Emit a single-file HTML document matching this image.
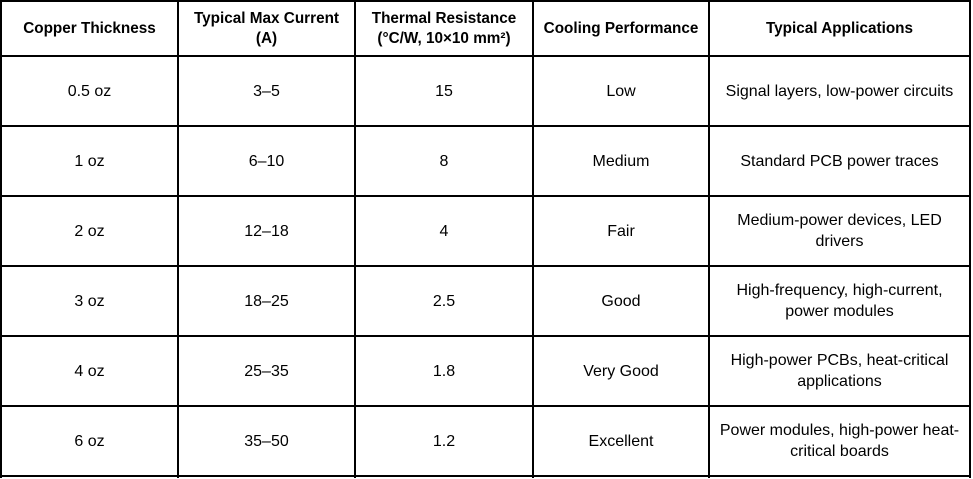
<!DOCTYPE html>
<html><head><meta charset="utf-8"><style>
body{margin:0;background:#fff;width:973px;height:479px;overflow:hidden;position:relative;font-family:"Liberation Sans","DejaVu Sans",sans-serif;color:#000}
.h{position:absolute;left:0;width:971px;height:2px;background:#000}
.v{position:absolute;top:0;width:2px;height:478px;background:#000}
.c{position:absolute;display:flex;align-items:center;justify-content:center;text-align:center;font-size:16px;line-height:21px}
.b{font-weight:bold;font-size:15.3px;line-height:20px}
</style></head><body>
<div class="h" style="top:0"></div><div class="h" style="top:55px"></div><div class="h" style="top:125px"></div><div class="h" style="top:195px"></div><div class="h" style="top:265px"></div><div class="h" style="top:335px"></div><div class="h" style="top:405px"></div><div class="h" style="top:475px"></div>
<div class="v" style="left:0"></div><div class="v" style="left:177px"></div><div class="v" style="left:354px"></div><div class="v" style="left:532px"></div><div class="v" style="left:708px"></div><div class="v" style="left:969px"></div>
<div id="t"></div>
<script>
var xs=[0,177,354,532,708,969],ys=[0,55,125,195,265,335,405,475];
var d=[["Copper Thickness","Typical Max Current<br>(A)","Thermal Resistance<br>(°C/W, 10×10 mm²)","Cooling Performance","Typical Applications"],
["0.5 oz","3–5","15","Low","Signal layers, low-power circuits"],
["1 oz","6–10","8","Medium","Standard PCB power traces"],
["2 oz","12–18","4","Fair","Medium-power devices, LED<br>drivers"],
["3 oz","18–25","2.5","Good","High-frequency, high-current,<br>power modules"],
["4 oz","25–35","1.8","Very Good","High-power PCBs, heat-critical<br>applications"],
["6 oz","35–50","1.2","Excellent","Power modules, high-power heat-<br>critical boards"]];
var h="";
for(var r=0;r<7;r++)for(var c=0;c<5;c++){
h+='<div class="c'+(r==0?' b':'')+'" style="left:'+(xs[c]+2)+'px;top:'+(ys[r]+2)+'px;width:'+(xs[c+1]-xs[c]-2)+'px;height:'+(ys[r+1]-ys[r]-2)+'px">'+d[r][c]+'</div>';}
document.getElementById("t").innerHTML=h;
</script>
</body></html>
